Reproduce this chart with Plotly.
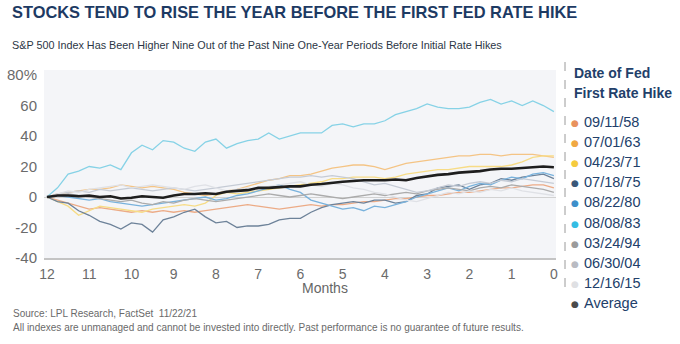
import plotly.graph_objects as go

# ---------------- data ----------------
months = [12 - 0.25 * i for i in range(49)]

labels = ["09/11/58", "07/01/63", "04/23/71", "07/18/75", "08/22/80",
          "08/08/83", "03/24/94", "06/30/04", "12/16/15", "Average"]

s58 = [0, -2, -4, -6, -8, -7, -8, -9, -10, -9, -10, -9, -10, -9, -10, -9, -8,
       -7, -6, -5, -6, -7, -8, -7, -6, -5, -6, -5, -5, -4, -3, -3, -2,
       -1, -1, 0, 1, 1, 2, 3, 3, 4, 5, 6, 6, 7, 8, 8, 6]
s63 = [0, 2, 3, 4, 5, 5, 6, 8, 7, 6, 7, 6, 5, 3, 2, 1, 2,
       4, 5, 7, 9, 11, 12, 14, 14, 15, 17, 19, 20, 21, 21, 20, 18,
       20, 22, 23, 24, 25, 26, 27, 27, 28, 28, 27, 28, 28, 28, 27, 26]
s71 = [0, -3, -6, -12, -9, -6, -7, -8, -9, -10, -8, -7, -6, -5, -6, -4, 1,
       3, 2, 3, 4, 5, 6, 7, 8, 9, 10, 12, 12, 13, 13, 13, 12,
       13, 15, 16, 17, 18, 18, 19, 20, 20, 20, 20, 21, 23, 26, 27, 27]
s75 = [0, -3, -4, -9, -12, -16, -18, -21, -17, -18, -23, -15, -13, -10, -8, -13, -17,
       -16, -20, -19, -19, -18, -15, -14, -14, -10, -7, -5, -4, -3, -4, -2, -2,
       -4, -3, 1, 2, 6, 7, 8, 5, 8, 9, 12, 11, 13, 14, 15, 12]
s80 = [0, 1, 0, -1, -2, -1, -3, -4, -5, -6, -5, -4, -3, -2, -1, 0, -2,
       -1, 1, 2, 4, 6, 8, 5, 3, -2, -4, -6, -8, -7, -9, -6, -7,
       -5, -3, 0, 2, 4, 6, 4, 7, 9, 8, 11, 13, 12, 15, 16, 14]
s83 = [0, 6, 15, 17, 20, 19, 21, 18, 29, 34, 31, 37, 36, 32, 30, 36, 38,
       32, 35, 37, 38, 42, 38, 40, 42, 42, 42, 47, 48, 46, 48, 48, 50,
       54, 56, 58, 61, 59, 58, 58, 59, 62, 64, 61, 63, 60, 63, 60, 56]
s94 = [0, 1, 2, 1, 0, -1, -2, -3, -2, -4, -5, -3, -4, -2, -1, -2, -3,
       -2, -1, 0, 1, 2, 1, 0, 1, 2, 1, 0, -1, 0, 1, 2, 1,
       2, 3, 2, 4, 5, 6, 5, 4, 6, 7, 6, 8, 7, 6, 5, 3]
s04 = [0, 2, 3, 4, 3, 5, 4, 5, 6, 5, 4, 5, 6, 5, 4, 5, 6,
       7, 8, 9, 10, 11, 12, 13, 13, 14, 13, 14, 13, 12, 10, 8, 9,
       7, 5, 3, 4, 6, 8, 7, 9, 10, 9, 11, 10, 12, 11, 10, 9]
s15 = [0, 2, 4, 3, 5, 6, 7, 8, 6, 7, 8, 7, 6, 5, 7, 8, 6,
       4, 5, 6, 5, 7, 8, 9, 10, 8, 7, 9, 8, 6, 5, 3, 2,
       0, -2, -3, -1, 1, 3, 2, 4, 3, 5, 4, 6, 4, 3, 2, 1]
avg = [0, 1, 1, 0.5, 1, 0, 0.5, -1, -0.5, 0.5, 0, -0.5, 1, 2, 2, 2.5, 2,
       3.5, 4, 4.5, 6, 6, 6.5, 7, 7, 8, 8.5, 9.5, 10, 10.5, 11, 11, 11,
       11.5, 11, 12.5, 13.5, 14.5, 15, 16, 16.5, 17, 18, 18.5, 18.5, 19, 19.5, 20, 19.5]

series = [s58, s63, s71, s75, s80, s83, s94, s04, s15]

ytick_vals = [-40, -20, 0, 20, 40, 60, 80]
ytick_text = ["-40", "-20", "0", "20", "40", "60", "80%"]
xtick_vals = list(range(12, -1, -1))

# ---------------- styles ----------------
line_colors = ["#ecab86", "#f4c485", "#f7dc86", "#6d8299", "#79b2dc",
               "#86d2e6", "#ababab", "#c5cbd5", "#dfe1e6"]
dot_colors = ["#e8925e", "#f0a843", "#f5cb3f", "#3a5879", "#3d8fca",
              "#35bde3", "#9b9b9b", "#b9bbc2", "#dfe0e3", "#4b4b4b"]
FONT = "Liberation Sans, Arial, sans-serif"
NAVY = "#22406a"

W, H = 680, 344
L, R, T, B = 44, 556, 70, 258


def px(x):
    return (x - L) / (R - L)


def py(y):
    return (B - y) / (B - T)


fig = go.Figure()
for s, c, lab in zip(series, line_colors, labels):
    fig.add_trace(go.Scatter(x=months, y=s, mode="lines", name=lab,
                             line=dict(color=c, width=1.3), showlegend=False,
                             hoverinfo="skip"))
fig.add_trace(go.Scatter(x=months, y=avg, mode="lines", name="Average",
                         line=dict(color="#1e1e1e", width=2.6), showlegend=False))

ann = []
ann.append(dict(text="<b>STOCKS TEND TO RISE THE YEAR BEFORE THE FIRST FED RATE HIKE</b>",
                x=px(10), y=py(12), xanchor="left", yanchor="middle",
                font=dict(family=FONT, size=16.4, color="#1d3a63")))
ann.append(dict(text="S&P 500 Index Has Been Higher Nine Out of the Past Nine One-Year Periods Before Initial Rate Hikes",
                x=px(10), y=py(45), xanchor="left", yanchor="middle",
                font=dict(family=FONT, size=10.8, color="#2b3645")))
ann.append(dict(text="Months", x=px(325), y=py(288), xanchor="center", yanchor="middle",
                font=dict(family=FONT, size=14, color="#666666")))
ann.append(dict(text="Source: LPL Research, FactSet  11/22/21",
                x=px(11), y=py(313), xanchor="left", yanchor="middle",
                font=dict(family=FONT, size=10, color="#6a6a6a")))
ann.append(dict(text="All indexes are unmanaged and cannot be invested into directly. Past performance is no guarantee of future results.",
                x=px(11), y=py(327), xanchor="left", yanchor="middle",
                font=dict(family=FONT, size=10, color="#6a6a6a")))
# legend
ann.append(dict(text="<b>Date of Fed</b>", x=px(572), y=py(73), xanchor="left", yanchor="middle",
                font=dict(family=FONT, size=14, color=NAVY)))
ann.append(dict(text="<b>First Rate Hike</b>", x=px(572), y=py(93), xanchor="left", yanchor="middle",
                font=dict(family=FONT, size=14, color=NAVY)))
for i, (lab, dc) in enumerate(zip(labels, dot_colors)):
    yy = 122 + i * 20.1
    ann.append(dict(text="●", x=px(575), y=py(yy + 1), xanchor="center", yanchor="middle",
                    font=dict(family="DejaVu Sans", size=9, color=dc)))
    ann.append(dict(text=lab, x=px(582), y=py(yy), xanchor="left", yanchor="middle",
                    font=dict(family=FONT, size=14.5, color=NAVY)))
for a in ann:
    a.update(xref="paper", yref="paper", showarrow=False)

fig.update_layout(
    width=W, height=H,
    margin=dict(l=L, r=W - R, t=T, b=H - B, pad=0, autoexpand=False),
    paper_bgcolor="white", plot_bgcolor="#f4f5f8",
    annotations=ann,
    shapes=[dict(type="line", xref="paper", yref="paper", x0=px(565), x1=px(565),
                 y0=py(62), y1=py(292), line=dict(color="#9a9a9a", width=1, dash="dash"))],
    xaxis=dict(range=[12.07, -0.05], tickvals=xtick_vals, showgrid=False, zeroline=False,
               showline=True, linecolor="#c4c4c4", linewidth=1.5, automargin=False,
               ticks="", ticklabelstandoff=2,
               tickfont=dict(family=FONT, size=14, color="#6b6b6b")),
    yaxis=dict(range=[-40, 83.3], tickvals=ytick_vals, ticktext=ytick_text, showgrid=False,
               zeroline=True, zerolinecolor="#d2d2d2", zerolinewidth=1, automargin=False,
               ticks="", ticklabelstandoff=6,
               tickfont=dict(family=FONT, size=15, color="#6b6b6b")),
    showlegend=False,
)

fig.write_html("out.html")
